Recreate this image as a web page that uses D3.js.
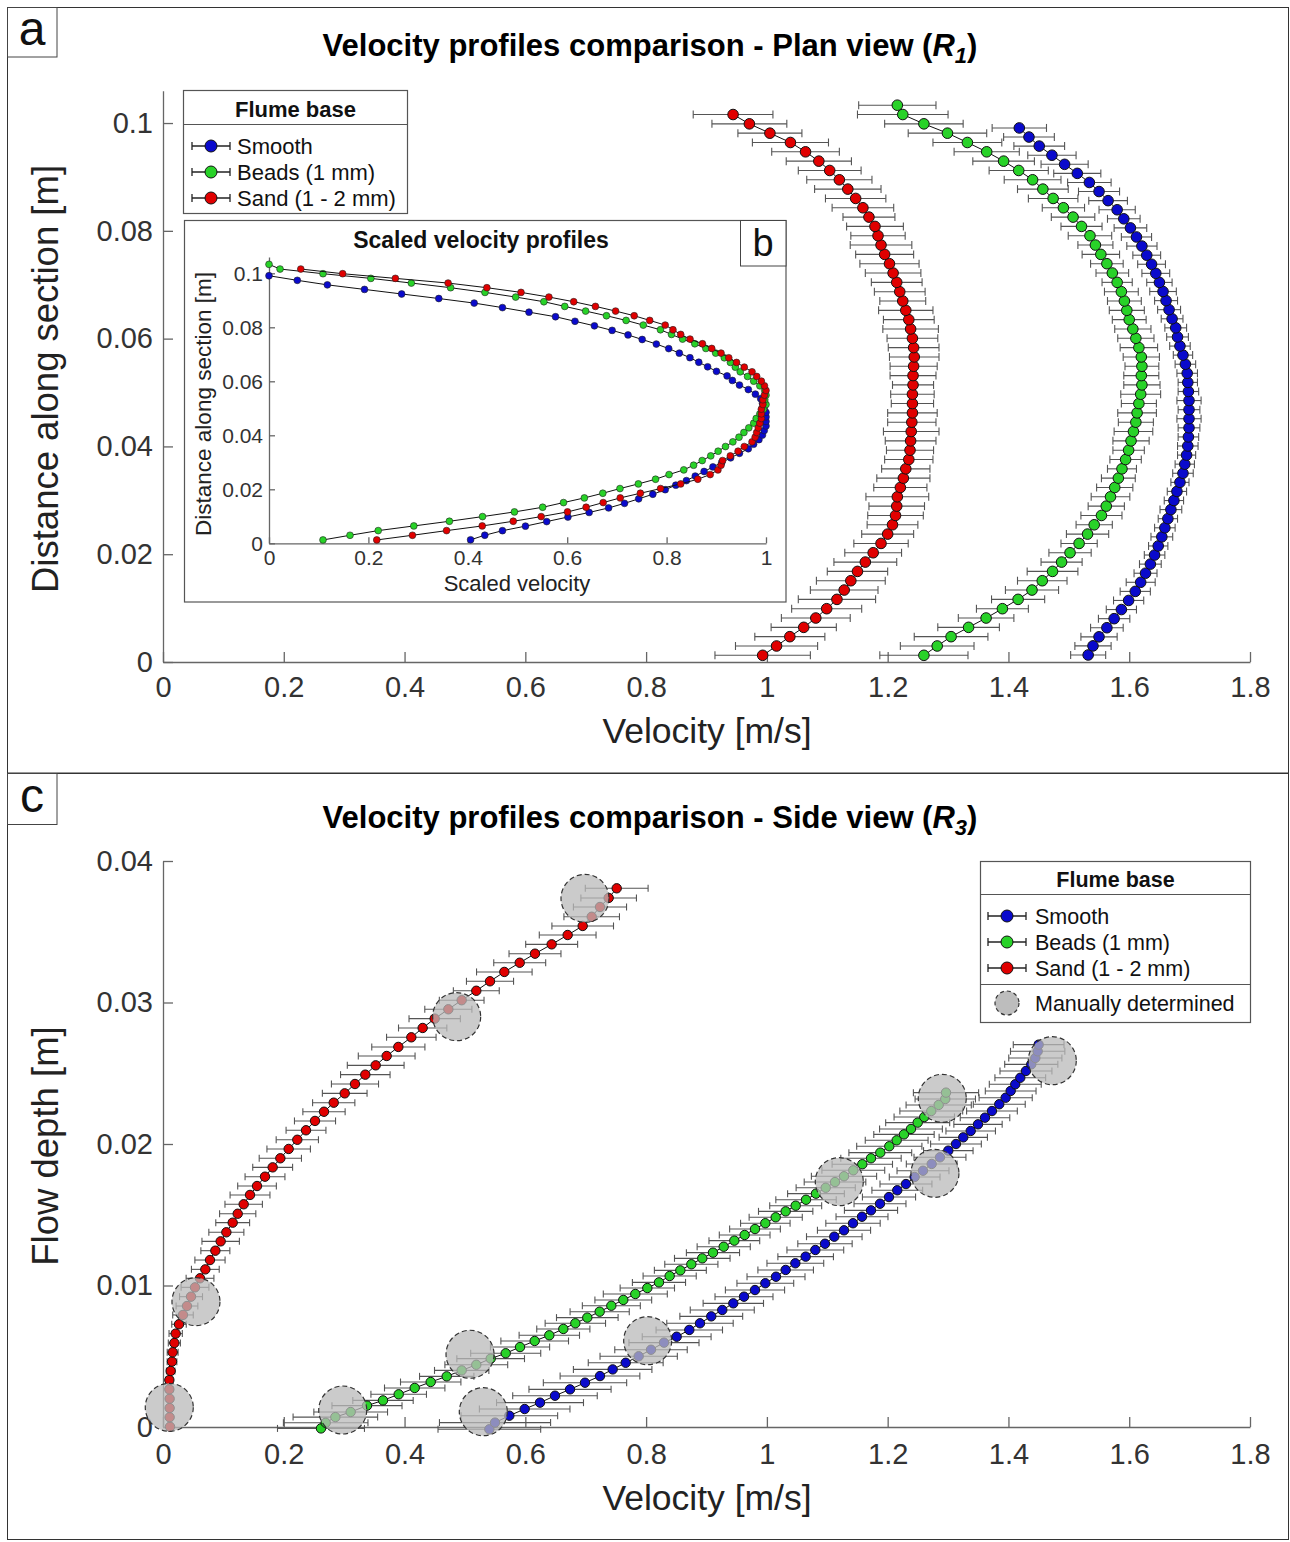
<!DOCTYPE html>
<html><head><meta charset="utf-8">
<script src="https://cdn.jsdelivr.net/npm/d3@7"></script>
<style>body{margin:0;background:#fff}</style>
</head><body>
<svg id="chart" width="1290" height="1542"></svg>
<script>
// ================= DATA =================
const seriesNames = ["Smooth", "Beads (1 mm)", "Sand (1 - 2 mm)"];
const seriesColors = ["#0a0acc", "#28d228", "#e00000"];

// ---- Panel a : plan view (distance along section [m], velocity [m/s], error [m/s]) ----
const planDistBlue = [0.00130,0.00299,0.00467,0.00636,0.00804,0.00973,0.01142,0.01310,0.01479,0.01647,0.01816,0.01985,0.02153,0.02322,0.02490,0.02659,0.02828,0.02996,0.03165,0.03333,0.03502,0.03671,0.03839,0.04008,0.04176,0.04345,0.04514,0.04682,0.04851,0.05019,0.05188,0.05357,0.05525,0.05694,0.05862,0.06031,0.06200,0.06368,0.06537,0.06705,0.06874,0.07043,0.07211,0.07380,0.07548,0.07717,0.07886,0.08054,0.08223,0.08391,0.08560,0.08729,0.08897,0.09066,0.09234,0.09403,0.09572,0.09740,0.09909];
const planVelBlue = [1.532,1.540,1.550,1.563,1.575,1.587,1.599,1.610,1.619,1.627,1.635,1.642,1.648,1.654,1.659,1.664,1.669,1.674,1.679,1.684,1.689,1.692,1.695,1.697,1.698,1.699,1.699,1.699,1.699,1.698,1.697,1.696,1.693,1.689,1.684,1.680,1.677,1.671,1.666,1.661,1.656,1.650,1.644,1.637,1.629,1.621,1.612,1.602,1.591,1.580,1.565,1.550,1.534,1.514,1.493,1.472,1.451,1.434,1.418];
const planErrBlue = [0.029,0.030,0.030,0.027,0.026,0.025,0.025,0.025,0.024,0.019,0.018,0.017,0.016,0.018,0.017,0.016,0.018,0.016,0.016,0.015,0.017,0.016,0.015,0.017,0.017,0.018,0.020,0.018,0.020,0.017,0.016,0.017,0.017,0.016,0.017,0.018,0.018,0.018,0.019,0.019,0.022,0.021,0.023,0.023,0.023,0.025,0.025,0.027,0.027,0.030,0.032,0.034,0.036,0.039,0.039,0.040,0.042,0.042,0.045];

const planDistGreen = [0.00124,0.00297,0.00470,0.00643,0.00816,0.00989,0.01162,0.01335,0.01508,0.01681,0.01854,0.02027,0.02200,0.02373,0.02546,0.02719,0.02892,0.03065,0.03238,0.03411,0.03584,0.03757,0.03930,0.04103,0.04276,0.04449,0.04622,0.04795,0.04968,0.05141,0.05314,0.05487,0.05660,0.05833,0.06006,0.06179,0.06352,0.06525,0.06698,0.06871,0.07044,0.07217,0.07390,0.07563,0.07736,0.07909,0.08082,0.08255,0.08428,0.08601,0.08774,0.08947,0.09120,0.09293,0.09466,0.09639,0.09812,0.09985,0.10158,0.10331];
const planVelGreen = [1.260,1.282,1.305,1.334,1.363,1.390,1.416,1.439,1.456,1.473,1.488,1.502,1.517,1.531,1.542,1.554,1.562,1.569,1.576,1.582,1.588,1.594,1.599,1.603,1.607,1.611,1.613,1.616,1.619,1.621,1.620,1.621,1.620,1.616,1.611,1.606,1.600,1.596,1.592,1.587,1.580,1.572,1.563,1.553,1.544,1.535,1.521,1.507,1.491,1.474,1.457,1.440,1.417,1.392,1.364,1.332,1.299,1.260,1.225,1.216];
const planErrGreen = [0.073,0.061,0.061,0.051,0.046,0.043,0.044,0.044,0.041,0.042,0.034,0.035,0.030,0.035,0.030,0.034,0.030,0.032,0.030,0.028,0.024,0.026,0.026,0.030,0.032,0.029,0.032,0.029,0.033,0.030,0.029,0.028,0.030,0.031,0.030,0.030,0.028,0.029,0.028,0.028,0.025,0.027,0.027,0.031,0.029,0.036,0.034,0.036,0.035,0.041,0.042,0.047,0.049,0.051,0.054,0.057,0.065,0.065,0.075,0.064];

const planDistRed = [0.00124,0.00297,0.00470,0.00643,0.00816,0.00989,0.01162,0.01335,0.01508,0.01681,0.01854,0.02027,0.02200,0.02373,0.02546,0.02719,0.02892,0.03065,0.03238,0.03411,0.03584,0.03757,0.03930,0.04103,0.04276,0.04449,0.04622,0.04795,0.04968,0.05141,0.05314,0.05487,0.05660,0.05833,0.06006,0.06179,0.06352,0.06525,0.06698,0.06871,0.07044,0.07217,0.07390,0.07563,0.07736,0.07909,0.08082,0.08255,0.08428,0.08601,0.08774,0.08947,0.09120,0.09293,0.09466,0.09639,0.09812,0.09985,0.10158];
const planVelRed = [0.993,1.016,1.038,1.061,1.081,1.099,1.116,1.128,1.139,1.150,1.163,1.176,1.189,1.200,1.208,1.213,1.215,1.216,1.221,1.226,1.230,1.235,1.237,1.238,1.239,1.240,1.241,1.241,1.241,1.242,1.242,1.243,1.244,1.243,1.241,1.238,1.235,1.230,1.225,1.220,1.215,1.209,1.203,1.195,1.189,1.184,1.179,1.169,1.159,1.147,1.134,1.120,1.104,1.086,1.064,1.039,1.005,0.971,0.944];
const planErrRed = [0.079,0.068,0.058,0.054,0.057,0.058,0.064,0.056,0.057,0.050,0.052,0.047,0.045,0.043,0.042,0.046,0.046,0.052,0.044,0.044,0.040,0.040,0.039,0.042,0.046,0.040,0.041,0.035,0.036,0.034,0.038,0.039,0.041,0.042,0.042,0.046,0.042,0.045,0.038,0.042,0.042,0.046,0.049,0.048,0.051,0.045,0.047,0.043,0.051,0.050,0.055,0.054,0.052,0.054,0.056,0.063,0.053,0.062,0.066];

// ---- Panel b : scaling bounds used for the scaled profiles (blue, green, red) ----
const scaledLow  = [1.418, 1.216, 0.9235];
const scaledHigh = [1.699, 1.621, 1.244];

// ---- Panel c : side view (flow depth [m], velocity [m/s], error [m/s]) ----
const sideDepthBlue = [-0.00016,0.00031,0.00080,0.00127,0.00172,0.00221,0.00266,0.00313,0.00360,0.00407,0.00454,0.00500,0.00546,0.00596,0.00638,0.00686,0.00733,0.00782,0.00827,0.00874,0.00921,0.00968,0.01016,0.01062,0.01110,0.01157,0.01204,0.01251,0.01295,0.01345,0.01390,0.01440,0.01486,0.01531,0.01578,0.01625,0.01673,0.01717,0.01767,0.01811,0.01859,0.01906,0.01953,0.02000,0.02047,0.02092,0.02139,0.02186,0.02233,0.02281,0.02327,0.02375,0.02422,0.02468,0.02516,0.02563,0.02608,0.02655,0.02702];
const sideVelBlue = [0.5404,0.5498,0.5735,0.5989,0.6243,0.6491,0.6740,0.6988,0.7236,0.7446,0.7662,0.7877,0.8081,0.8296,0.8506,0.8715,0.8892,0.9079,0.9261,0.9444,0.9621,0.9803,0.9974,1.0151,1.0311,1.0471,1.0642,1.0802,1.0962,1.1116,1.1277,1.1426,1.1575,1.1724,1.1873,1.2022,1.2159,1.2303,1.2447,1.2585,1.2729,1.2866,1.3004,1.3131,1.3252,1.3375,1.3496,1.3612,1.3727,1.3848,1.3954,1.4037,1.4113,1.4196,1.4290,1.4378,1.4445,1.4484,1.4500];
const sideErrBlue = [0.085,0.092,0.080,0.075,0.072,0.070,0.068,0.069,0.066,0.065,0.062,0.064,0.060,0.058,0.057,0.055,0.055,0.052,0.053,0.050,0.048,0.049,0.047,0.048,0.046,0.047,0.046,0.047,0.045,0.046,0.044,0.045,0.043,0.044,0.043,0.044,0.042,0.043,0.042,0.043,0.042,0.043,0.041,0.042,0.040,0.041,0.040,0.041,0.042,0.043,0.044,0.042,0.043,0.042,0.043,0.044,0.044,0.045,0.042];

const sideDepthGreen = [-0.0001,0.0003,0.0007,0.00106,0.00151,0.00188,0.00231,0.00276,0.00318,0.00358,0.00400,0.00440,0.00483,0.00521,0.00565,0.00608,0.00648,0.00693,0.00733,0.00773,0.00815,0.00857,0.00898,0.00940,0.00982,0.01022,0.01067,0.01107,0.01150,0.01192,0.01232,0.01274,0.01317,0.01357,0.01399,0.01440,0.01482,0.01524,0.01564,0.01606,0.01649,0.01691,0.01731,0.01772,0.01814,0.01857,0.01899,0.01939,0.01984,0.02026,0.02068,0.02106,0.02151,0.02191,0.02233,0.02276,0.02318,0.02363];
const sideVelGreen = [0.2616,0.2694,0.2854,0.3108,0.3378,0.3643,0.3903,0.4168,0.4433,0.4698,0.4946,0.5188,0.5426,0.5675,0.5912,0.6155,0.6397,0.6629,0.6828,0.7026,0.7231,0.7424,0.7622,0.7821,0.8020,0.8213,0.8390,0.8567,0.8749,0.8930,0.9107,0.9285,0.9461,0.9632,0.9803,0.9974,1.0146,1.0311,1.0477,1.0648,1.0813,1.0974,1.1128,1.1277,1.1431,1.1580,1.1724,1.1878,1.2027,1.2149,1.2270,1.2386,1.2497,1.2606,1.2722,1.2845,1.2954,1.2966];
const sideErrGreen = [0.072,0.070,0.070,0.061,0.058,0.050,0.046,0.050,0.050,0.045,0.045,0.052,0.056,0.058,0.049,0.056,0.050,0.044,0.050,0.051,0.049,0.048,0.047,0.053,0.045,0.044,0.044,0.043,0.044,0.046,0.044,0.044,0.042,0.042,0.042,0.041,0.044,0.045,0.043,0.050,0.047,0.049,0.051,0.054,0.052,0.050,0.050,0.052,0.054,0.052,0.050,0.052,0.053,0.050,0.052,0.054,0.050,0.054];

const sideDepthRed = [0.00002,0.00069,0.00134,0.00200,0.00266,0.00332,0.00396,0.00462,0.00528,0.00594,0.00660,0.00726,0.00792,0.00855,0.00921,0.00987,0.01051,0.01114,0.01180,0.01246,0.01312,0.01376,0.01444,0.01507,0.01574,0.01640,0.01703,0.01769,0.01835,0.01899,0.01965,0.02030,0.02097,0.02163,0.02228,0.02292,0.02358,0.02424,0.02490,0.02556,0.02622,0.02686,0.02754,0.02820,0.02886,0.02952,0.03016,0.03083,0.03150,0.03216,0.03281,0.03345,0.03411,0.03477,0.03541,0.03606,0.03675,0.03739,0.03807];
const sideVelRed = [0.0116,0.0110,0.0110,0.0110,0.0105,0.0105,0.0127,0.0149,0.0160,0.0188,0.0210,0.0265,0.0331,0.0397,0.0464,0.0530,0.0613,0.0701,0.0778,0.0867,0.0955,0.1049,0.1154,0.1237,0.1336,0.1441,0.1557,0.1689,0.1816,0.1943,0.2081,0.2224,0.2368,0.2517,0.2666,0.2827,0.3009,0.3179,0.3350,0.3522,0.3704,0.3897,0.4112,0.4300,0.4499,0.4725,0.4946,0.5188,0.5415,0.5652,0.5907,0.6160,0.6436,0.6701,0.6950,0.7099,0.7236,0.7380,0.7513];
const sideErrRed = [0.004,0.004,0.005,0.005,0.006,0.006,0.007,0.008,0.009,0.010,0.011,0.012,0.017,0.018,0.019,0.023,0.023,0.023,0.025,0.024,0.031,0.029,0.028,0.030,0.031,0.033,0.032,0.033,0.033,0.035,0.036,0.035,0.033,0.034,0.035,0.035,0.037,0.039,0.041,0.047,0.047,0.044,0.041,0.040,0.0425,0.039,0.037,0.038,0.039,0.046,0.043,0.043,0.043,0.047,0.051,0.046,0.044,0.046,0.052];

// manually determined points (velocity, depth)
const manualVel   = [0.0104,0.0546,0.4863,0.6988,0.2976,0.5084,1.1199,1.2904,0.5304,0.8026,1.2783,1.4726];
const manualDepth = [0.00139,0.00886,0.02900,0.03736,0.00120,0.00514,0.01734,0.02323,0.00108,0.00610,0.01793,0.02589];

// ticks
const velTicks = [0,0.2,0.4,0.6,0.8,1,1.2,1.4,1.6,1.8];
const velTickLabels = ["0","0.2","0.4","0.6","0.8","1","1.2","1.4","1.6","1.8"];
const distTicks = [0,0.02,0.04,0.06,0.08,0.1];
const distTickLabels = ["0","0.02","0.04","0.06","0.08","0.1"];
const depthTicks = [0,0.01,0.02,0.03,0.04];
const depthTickLabels = ["0","0.01","0.02","0.03","0.04"];
const scaledTicks = [0,0.2,0.4,0.6,0.8,1];
const scaledTickLabels = ["0","0.2","0.4","0.6","0.8","1"];

// ================= DRAWING =================
const FONT = "'Liberation Sans', Arial, Helvetica, sans-serif";
const svg = d3.select("#chart");
svg.append("rect").attr("width",1290).attr("height",1542).attr("fill","#fff");

// panel frames
svg.append("rect").attr("x",7.5).attr("y",7.5).attr("width",1281).attr("height",765.5)
  .attr("fill","none").attr("stroke","#333").attr("stroke-width",1);
svg.append("rect").attr("x",7.5).attr("y",773.5).attr("width",1281).attr("height",766)
  .attr("fill","none").attr("stroke","#333").attr("stroke-width",1);

function labelBox(x,y,w,h,t,fs,bx,by){
  svg.append("rect").attr("x",x).attr("y",y).attr("width",w).attr("height",h)
    .attr("fill","#fff").attr("stroke","#444").attr("stroke-width",1);
  svg.append("text").attr("x",bx).attr("y",by).attr("text-anchor","middle")
    .attr("font-family",FONT).attr("font-size",fs).attr("fill","#111").text(t);
}

function titleText(x,y,main,sub){
  const t = svg.append("text").attr("x",x).attr("y",y).attr("text-anchor","middle")
    .attr("font-family",FONT).attr("font-weight","bold").attr("font-size",31).attr("fill","#000");
  t.append("tspan").text(main+" (");
  t.append("tspan").attr("font-style","italic").text("R");
  t.append("tspan").attr("font-style","italic").attr("font-size",22).attr("dy",7).text(sub);
  t.append("tspan").attr("dy",-7).text(")");
}

function axisLabel(x,y,text,fs,rot){
  svg.append("text").attr("transform",`translate(${x},${y})`+(rot?" rotate(-90)":""))
    .attr("text-anchor","middle").attr("font-family",FONT).attr("font-size",fs)
    .attr("fill","#222").text(text);
}

function drawAxes(g,x,y,xt,xtl,yt,ytl,o){
  const ax = d3.axisBottom(x).tickValues(xt).tickFormat((d,i)=>xtl[i])
    .tickSizeInner(-o.tick).tickSizeOuter(0).tickPadding(o.xpad);
  const gx = g.append("g").attr("transform",`translate(0,${y.range()[0]})`).call(ax);
  const ay = d3.axisLeft(y).tickValues(yt).tickFormat((d,i)=>ytl[i])
    .tickSizeInner(-o.tick).tickSizeOuter(0).tickPadding(o.ypad);
  const gy = g.append("g").attr("transform",`translate(${x.range()[0]},0)`).call(ay);
  [gx,gy].forEach(a=>{
    a.attr("font-family",FONT).attr("font-size",o.fs);
    a.select(".domain").attr("stroke","#666").attr("stroke-width",1.3);
    a.selectAll(".tick line").attr("stroke","#666").attr("stroke-width",1.3);
    a.selectAll(".tick text").attr("fill","#333");
  });
}

function drawSeries(g,x,y,vel,dist,err,color,r,cap,mstroke,mwidth){
  const pts = vel.map((v,i)=>({v:v, d:dist[i], e: err ? err[i] : 0}));
  if(err){
    const eb = g.append("g").attr("stroke","#555").attr("stroke-width",1.1);
    eb.selectAll("line.h").data(pts).join("line").attr("class","h")
      .attr("x1",p=>x(p.v-p.e)).attr("x2",p=>x(p.v+p.e)).attr("y1",p=>y(p.d)).attr("y2",p=>y(p.d));
    eb.selectAll("line.l").data(pts).join("line").attr("class","l")
      .attr("x1",p=>x(p.v-p.e)).attr("x2",p=>x(p.v-p.e)).attr("y1",p=>y(p.d)-cap).attr("y2",p=>y(p.d)+cap);
    eb.selectAll("line.r").data(pts).join("line").attr("class","r")
      .attr("x1",p=>x(p.v+p.e)).attr("x2",p=>x(p.v+p.e)).attr("y1",p=>y(p.d)-cap).attr("y2",p=>y(p.d)+cap);
  }
  g.append("path").datum(pts).attr("d",d3.line().x(p=>x(p.v)).y(p=>y(p.d)))
    .attr("fill","none").attr("stroke","#111").attr("stroke-width",1);
  g.append("g").selectAll("circle").data(pts).join("circle")
    .attr("cx",p=>x(p.v)).attr("cy",p=>y(p.d)).attr("r",r)
    .attr("fill",color).attr("stroke",mstroke).attr("stroke-width",mwidth);
}

function legendIcon(g,xc,yc,color){
  const li = g.append("g").attr("stroke","#222").attr("stroke-width",1.3);
  li.append("line").attr("x1",xc-19).attr("x2",xc+19).attr("y1",yc).attr("y2",yc);
  li.append("line").attr("x1",xc-19).attr("x2",xc-19).attr("y1",yc-4).attr("y2",yc+4);
  li.append("line").attr("x1",xc+19).attr("x2",xc+19).attr("y1",yc-4).attr("y2",yc+4);
  g.append("circle").attr("cx",xc).attr("cy",yc).attr("r",6).attr("fill",color)
    .attr("stroke","#111").attr("stroke-width",1);
}

function legend(x0,y0,w,h,headerY,titleY,rowsY,iconX,textX,fs,manualRow){
  const g = svg.append("g");
  g.append("rect").attr("x",x0).attr("y",y0).attr("width",w).attr("height",h)
    .attr("fill","#fff").attr("stroke","#555").attr("stroke-width",1.2);
  g.append("line").attr("x1",x0).attr("x2",x0+w).attr("y1",headerY).attr("y2",headerY)
    .attr("stroke","#555").attr("stroke-width",1.2);
  g.append("text").attr("x",x0+w/2).attr("y",titleY).attr("text-anchor","middle")
    .attr("font-family",FONT).attr("font-weight","bold").attr("font-size",fs).attr("fill","#111").text("Flume base");
  seriesNames.forEach((n,i)=>{
    legendIcon(g,iconX,rowsY[i],seriesColors[i]);
    g.append("text").attr("x",textX).attr("y",rowsY[i]+7.5).attr("font-family",FONT)
      .attr("font-size",fs).attr("fill","#111").text(n);
  });
  if(manualRow){
    g.append("line").attr("x1",x0).attr("x2",x0+w).attr("y1",manualRow.sep).attr("y2",manualRow.sep)
      .attr("stroke","#555").attr("stroke-width",1.2);
    g.append("circle").attr("cx",iconX).attr("cy",manualRow.y).attr("r",12)
      .attr("fill","#bdbdbd").attr("stroke","#333").attr("stroke-width",1.2).attr("stroke-dasharray","4,3");
    g.append("text").attr("x",textX).attr("y",manualRow.y+7.5).attr("font-family",FONT)
      .attr("font-size",fs).attr("fill","#111").text("Manually determined");
  }
}

// ---------------- Panel a ----------------
labelBox(7.5,7.5,49.5,49.5,"a",48,32,45);
titleText(650,56,"Velocity profiles comparison - Plan view","1");

const xA = d3.scaleLinear().domain([0,1.8]).range([163,1250]);
const yA = d3.scaleLinear().domain([0,0.106]).range([662,90.7]);
const gA = svg.append("g");
drawAxes(gA,xA,yA,velTicks,velTickLabels,distTicks,distTickLabels,{tick:10,xpad:14,ypad:10,fs:29});
axisLabel(707,743,"Velocity [m/s]",35.5,false);
axisLabel(58,379,"Distance along section [m]",36.5,true);

const planSets = [
  [planVelBlue,planDistBlue,planErrBlue],
  [planVelGreen,planDistGreen,planErrGreen],
  [planVelRed,planDistRed,planErrRed]
];
planSets.forEach((s,i)=>drawSeries(gA,xA,yA,s[0],s[1],s[2],seriesColors[i],5.3,4,"#111",1));

legend(183.5,90.5,224,123,124.5,117,[146,172,198],211,237,22,null);

// ---------------- Inset b ----------------
svg.append("rect").attr("x",184.5).attr("y",220.5).attr("width",601.5).attr("height",381.5)
  .attr("fill","#fff").attr("stroke","#555").attr("stroke-width",1.2);
labelBox(740.5,220.5,45.5,45.5,"b",38,763,256);
svg.append("text").attr("x",481).attr("y",248).attr("text-anchor","middle").attr("font-family",FONT)
  .attr("font-weight","bold").attr("font-size",23).attr("fill","#111").text("Scaled velocity profiles");
const xB = d3.scaleLinear().domain([0,1]).range([269,766]);
const yB = d3.scaleLinear().domain([0,0.106]).range([543.3,257.1]);
const gB = svg.append("g");
drawAxes(gB,xB,yB,scaledTicks,scaledTickLabels,distTicks,distTickLabels,{tick:6,xpad:7,ypad:6,fs:21});
axisLabel(517,591,"Scaled velocity",22,false);
axisLabel(211,404,"Distance along section [m]",22.5,true);
planSets.forEach((s,i)=>{
  const sc = s[0].map(v=>(v-scaledLow[i])/(scaledHigh[i]-scaledLow[i]));
  drawSeries(gB,xB,yB,sc,s[1],null,seriesColors[i],3.4,0,"#222",0.6);
});

// ---------------- Panel c ----------------
labelBox(7.5,773.5,49.5,51,"c",48,32,812);
titleText(650,828,"Velocity profiles comparison - Side view","3");

const xC = d3.scaleLinear().domain([0,1.8]).range([163,1250]);
const yC = d3.scaleLinear().domain([0,0.04]).range([1427,861]);
const gC = svg.append("g");
drawAxes(gC,xC,yC,velTicks,velTickLabels,depthTicks,depthTickLabels,{tick:10,xpad:16,ypad:10,fs:29});
axisLabel(707,1510,"Velocity [m/s]",35.5,false);
axisLabel(58,1146,"Flow depth [m]",36.5,true);

const sideSets = [
  [sideVelBlue,sideDepthBlue,sideErrBlue],
  [sideVelGreen,sideDepthGreen,sideErrGreen],
  [sideVelRed,sideDepthRed,sideErrRed]
];
sideSets.forEach((s,i)=>drawSeries(gC,xC,yC,s[0],s[1],s[2],seriesColors[i],4.7,3.5,"#111",1));

gC.append("g").selectAll("circle").data(manualVel).join("circle")
  .attr("cx",(v)=>xC(v)).attr("cy",(v,i)=>yC(manualDepth[i])).attr("r",24)
  .attr("fill","#b9b9b9").attr("fill-opacity",0.75)
  .attr("stroke","#333").attr("stroke-width",1.2).attr("stroke-dasharray","5,3");

legend(980.5,861.5,270,161,894.5,887,[916,942,968],1007,1035,21.5,{sep:984.5,y:1003});
</script>
</body></html>
